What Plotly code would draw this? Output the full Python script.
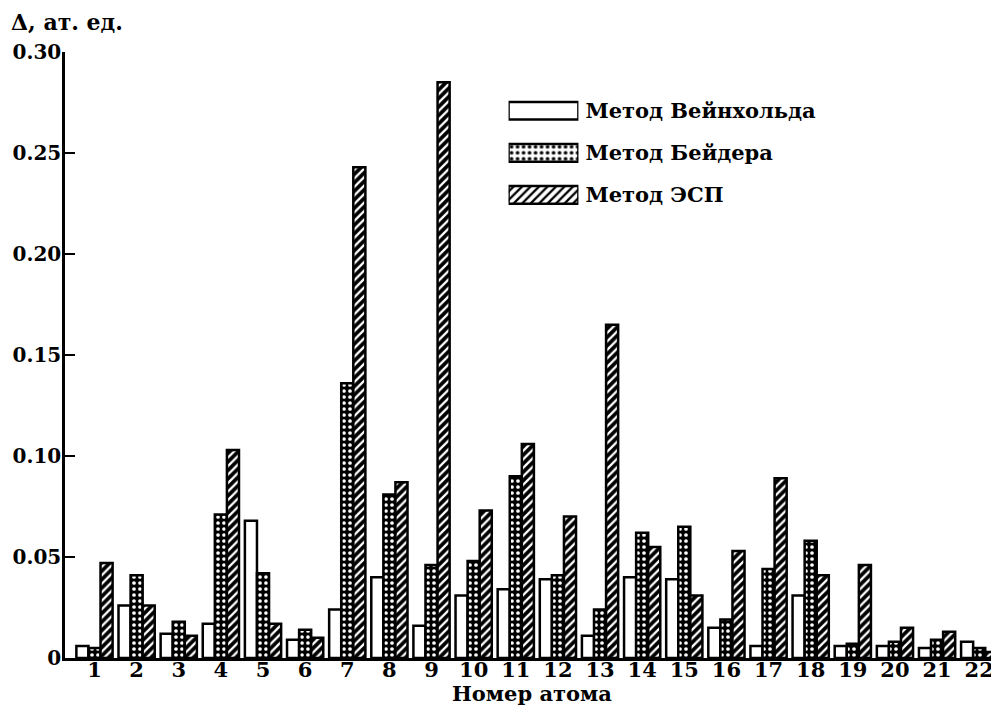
import plotly.graph_objects as go

atoms = [str(i) for i in range(1, 23)]
weinhold = [0.006, 0.026, 0.012, 0.017, 0.068, 0.009, 0.024, 0.040, 0.016, 0.031, 0.034,
            0.039, 0.011, 0.040, 0.039, 0.015, 0.006, 0.031, 0.006, 0.006, 0.005, 0.008]
bader = [0.005, 0.041, 0.018, 0.071, 0.042, 0.014, 0.136, 0.081, 0.046, 0.048, 0.090,
         0.041, 0.024, 0.062, 0.065, 0.019, 0.044, 0.058, 0.007, 0.008, 0.009, 0.005]
esp = [0.047, 0.026, 0.011, 0.103, 0.017, 0.010, 0.243, 0.087, 0.285, 0.073, 0.106,
       0.070, 0.165, 0.055, 0.031, 0.053, 0.089, 0.041, 0.046, 0.015, 0.013, 0.003]
names = ["Метод Вейнхольда", "Метод Бейдера", "Метод ЭСП"]
ytick_vals = [0, 0.05, 0.10, 0.15, 0.20, 0.25, 0.30]
ytick_text = ["0", "0.05", "0.10", "0.15", "0.20", "0.25", "0.30"]

FONT = "DejaVu Serif"
FS = 21
LW = 2.5
bg = ["white", "black", "black"]
shapes_ = ["", ".", "/"]
solid = [0.3, 0.3, 0.38]

fig = go.Figure()
x_num = [int(a) for a in atoms]
for i, (name, vals) in enumerate(zip(names, [weinhold, bader, esp])):
    fig.add_trace(go.Bar(
        x=x_num, y=vals, name=name, showlegend=False,
        marker=dict(color=bg[i],
                    pattern=dict(shape=shapes_[i], fgcolor="white", bgcolor=bg[i],
                                 size=6, solidity=solid[i], fillmode="replace"),
                    line=dict(color="black", width=LW)),
    ))

# custom legend drawn as a small horizontal bar chart on its own axes
fig.add_trace(go.Bar(
    x=[1, 1, 1], y=names, orientation="h", width=0.42, showlegend=False,
    xaxis="x2", yaxis="y2",
    marker=dict(
        color=bg,
        pattern=dict(shape=shapes_, fgcolor="white", bgcolor=bg,
                     size=6, solidity=solid, fillmode="replace"),
        line=dict(color="black", width=LW),
    ),
))

# the page body adds an 8px offset, so the figure is sized to fit the window
fig.update_layout(
    width=991, height=697,
    margin=dict(l=57, r=0, t=44, b=47),
    paper_bgcolor="white", plot_bgcolor="white",
    barmode="group", bargap=0.14, bargroupgap=0,
    font=dict(family=FONT, color="black", size=FS),
    xaxis=dict(
        range=[0.30, 22.47], tickmode="array", tickvals=x_num,
        ticktext=["<b>%s</b>" % a for a in atoms],
        showline=True, linecolor="black", linewidth=LW, ticks="", showgrid=False,
        zeroline=False, tickfont=dict(family=FONT, size=FS, color="black"),
        ticklabelstandoff=-9, automargin=False,
    ),
    yaxis=dict(
        range=[0, 0.30], tickmode="array", tickvals=ytick_vals,
        ticktext=["<b>%s</b>" % t for t in ytick_text],
        showline=True, linecolor="black", linewidth=LW, ticks="inside", ticklen=10,
        tickwidth=2, tickcolor="black", showgrid=False, zeroline=False,
        tickfont=dict(family=FONT, size=20, color="black"), ticklabelstandoff=-3,
        automargin=False,
    ),
    xaxis2=dict(domain=[0.4749, 0.5497], range=[0, 1], anchor="y2", visible=False,
                fixedrange=True, automargin=False),
    yaxis2=dict(domain=[0.7295, 0.9377], anchor="x2", side="right", autorange="reversed",
                showline=False, showgrid=False, zeroline=False, ticks="",
                ticktext=["<b>%s</b>" % n for n in names], tickvals=names, tickmode="array",
                tickfont=dict(family=FONT, size=FS, color="black"), ticklabelstandoff=6,
                automargin=False),
    annotations=[
        dict(text="<b>Δ, ат. ед.</b>", xref="paper", yref="paper", x=-0.06, y=1.05,
             xanchor="left", yanchor="middle", showarrow=False,
             font=dict(family=FONT, size=22, color="black")),
        dict(text="<b>Номер атома</b>", xref="paper", yref="paper", x=0.5, y=-0.058,
             xanchor="center", yanchor="middle", showarrow=False,
             font=dict(family=FONT, size=FS, color="black")),
    ],
)

fig.write_html("out.html")
